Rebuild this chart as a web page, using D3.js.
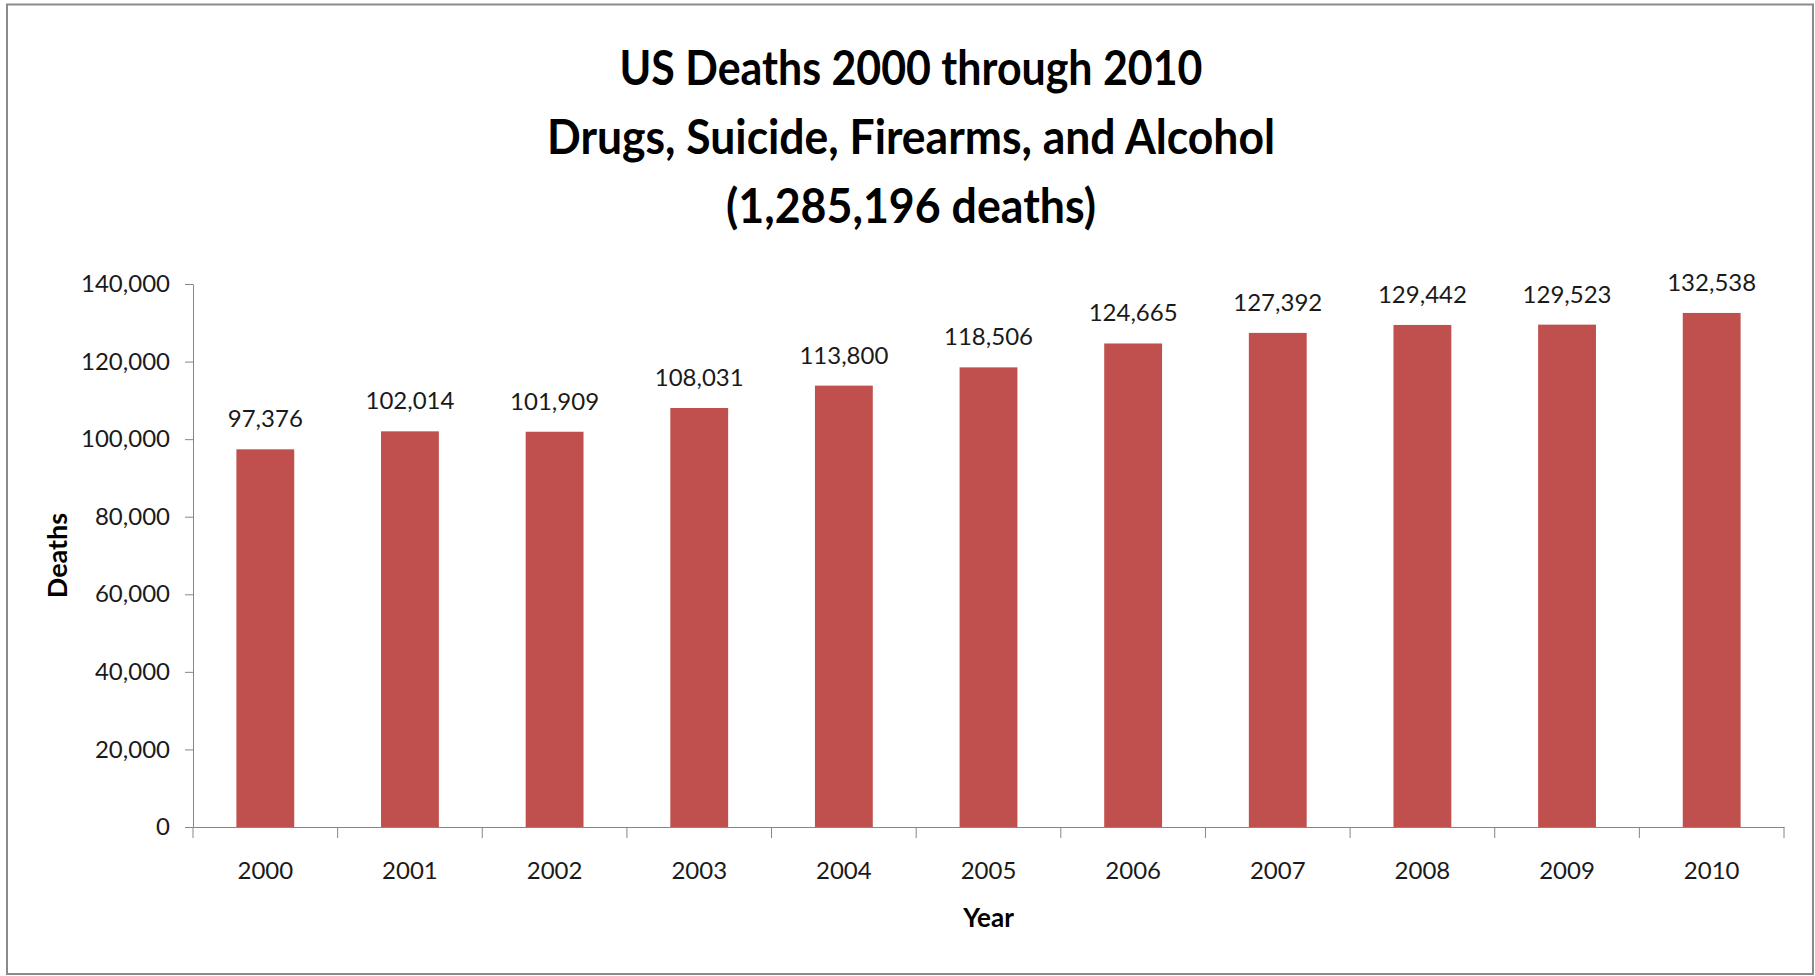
<!DOCTYPE html>
<html>
<head>
<meta charset="utf-8">
<script src="https://cdn.jsdelivr.net/npm/d3@7"></script>
<style>
	body { margin: 0; background: #fff; }
	text { font-family: Lato, "Open Sans", sans-serif; fill: #1a1a1a; }
</style>
</head>
<body>
<div class="chart"></div>
<script>
// US deaths bar chart
const years = ['2000', '2001', '2002', '2003', '2004', '2005', '2006', '2007', '2008', '2009', '2010'];
const deaths = [97376, 102014, 101909, 108031, 113800, 118506, 124665, 127392, 129442, 129523, 132538];
const yTicks = [0, 20000, 40000, 60000, 80000, 100000, 120000, 140000];
const titleLines = ['US Deaths 2000 through 2010', 'Drugs, Suicide, Firearms, and Alcohol', '(1,285,196 deaths)'];

const W = 1815, H = 976;
const margin = { top: 284, right: 31, bottom: 149, left: 193 };
const width = W - margin.left - margin.right;
const height = H - margin.top - margin.bottom;

const data = years.map((y, i) => ({ year: y, value: deaths[i] }));

const svg = d3.select('.chart')
	.append('svg')
		.attr('width', W)
		.attr('height', H);

// outer frame
svg.append('rect')
	.attr('x', 7)
	.attr('y', 4.5)
	.attr('width', 1806)
	.attr('height', 969.5)
	.attr('fill', '#fff')
	.attr('stroke', '#8a8a8a')
	.attr('stroke-width', 2);

// title, three lines
const titleWidths = [583, 728, 370];
svg.append('g')
	.selectAll('text')
	.data(titleLines)
	.enter()
	.append('text')
		.attr('x', 911)
		.attr('y', (d, i) => 85 + i * 69)
		.attr('text-anchor', 'middle')
		.attr('textLength', (d, i) => titleWidths[i])
		.attr('lengthAdjust', 'spacingAndGlyphs')
		.style('font-size', '47px')
		.style('font-weight', 'bold')
		.style('fill', '#000')
		.text(d => d);

const g = svg.append('g')
	.attr('transform', `translate(${margin.left}, ${margin.top})`);

const xScale = d3.scaleBand()
	.domain(years)
	.range([0, width])
	.paddingInner(0.6)
	.paddingOuter(0.3);

const yScale = d3.scaleLinear()
	.domain([0, 140000])
	.range([height, 0]);

// y axis
const yAxis = d3.axisLeft(yScale)
	.tickValues(yTicks)
	.tickFormat(d3.format(','))
	.tickSize(8)
	.tickSizeOuter(0)
	.tickPadding(15);

const yG = g.append('g').call(yAxis);
yG.select('.domain').attr('stroke', '#868686');
yG.selectAll('.tick line').attr('stroke', '#868686');
yG.selectAll('.tick text')
	.style('font-size', '24px')
	.style('font-family', 'Lato, sans-serif')
	.attr('fill', '#1a1a1a');

// bars
g.selectAll('.bar')
	.data(data)
	.enter()
	.append('rect')
		.attr('class', 'bar')
		.attr('x', d => xScale(d.year))
		.attr('y', d => yScale(d.value))
		.attr('width', xScale.bandwidth())
		.attr('height', d => height - yScale(d.value))
		.attr('fill', '#c0504d');

// value labels
g.selectAll('.label')
	.data(data)
	.enter()
	.append('text')
		.attr('class', 'label')
		.attr('x', d => xScale(d.year) + xScale.bandwidth() / 2)
		.attr('y', d => yScale(d.value) - 22)
		.attr('text-anchor', 'middle')
		.style('font-size', '24px')
		.text(d => d3.format(',')(d.value));

// x axis: line + category boundary ticks + labels
const xAxis = d3.axisBottom(xScale)
	.tickSize(0)
	.tickSizeOuter(0);

const xG = g.append('g')
	.attr('transform', `translate(0, ${height})`)
	.call(xAxis);
xG.select('.domain').attr('stroke', '#868686');
xG.selectAll('.tick text')
	.attr('y', 52)
	.attr('dy', 0)
	.style('font-size', '24px')
	.style('font-family', 'Lato, sans-serif')
	.attr('fill', '#1a1a1a');

const half = xScale.step() * xScale.paddingInner() / 2;
const bounds = years.map(y => xScale(y) - half)
	.concat([xScale(years[years.length - 1]) + xScale.bandwidth() + half]);

xG.selectAll('.bound')
	.data(bounds)
	.enter()
	.append('line')
		.attr('class', 'bound')
		.attr('x1', d => d)
		.attr('x2', d => d)
		.attr('y1', 0)
		.attr('y2', 11)
		.attr('stroke', '#868686');

// axis titles
svg.append('text')
	.attr('x', margin.left + width / 2)
	.attr('y', 927)
	.attr('text-anchor', 'middle')
	.style('font-size', '26px')
	.style('font-weight', 'bold')
	.style('fill', '#000')
	.text('Year');

svg.append('text')
	.attr('transform', `translate(67, ${margin.top + height / 2}) rotate(-90)`)
	.attr('text-anchor', 'middle')
	.style('font-size', '27px')
	.style('font-weight', 'bold')
	.style('fill', '#000')
	.text('Deaths');
</script>
</body>
</html>
